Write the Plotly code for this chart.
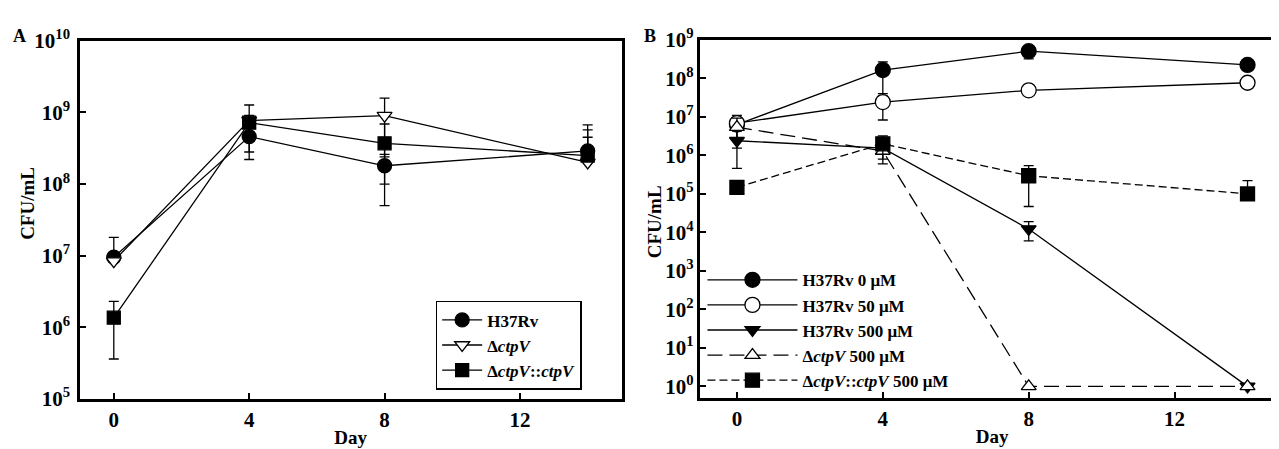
import plotly.graph_objects as go

# ---------------- data ----------------
days = [0, 4, 8, 14]
x_ticks = [0, 4, 8, 12]

# Panel A
a_names = ["H37Rv", "Δ<i>ctpV</i>", "Δ<i>ctpV</i>::<i>ctpV</i>"]
a_h37rv = [9.5e6, 4.6e8, 1.8e8, 2.9e8]
a_h37rv_hi = [1.8e7, 7.0e8, 2.6e8, 6.7e8]
a_h37rv_lo = [9.5e6, 2.2e8, 1.0e8, 2.9e8]
a_ko = [8.4e6, 7.7e8, 9.0e8, 2.0e8]
a_ko_hi = [8.4e6, 1.27e9, 1.58e9, 4.5e8]
a_ko_lo = [8.4e6, 2.8e8, 2.4e8, 2.0e8]
a_comp = [1.36e6, 7.2e8, 3.7e8, 2.5e8]
a_comp_hi = [2.3e6, 9.1e8, 6.9e8, 5.7e8]
a_comp_lo = [3.6e5, 5.3e8, 5.0e7, 2.5e8]
a_ytick_exp = [5, 6, 7, 8, 9, 10]

# Panel B
b_names = ["H37Rv 0 μM", "H37Rv 50 μM", "H37Rv 500 μM",
           "Δ<i>ctpV</i> 500 μM", "Δ<i>ctpV</i>::<i>ctpV</i> 500 μM"]
b_0 = [6.3e6, 1.65e8, 5.1e8, 2.24e8]
b_0_hi = [9.6e6, 2.7e8, 7.0e8, 2.24e8]
b_0_lo = [6.3e6, 3.5e7, 3.2e8, 2.24e8]
b_50 = [6.9e6, 2.43e7, 4.9e7, 7.7e7]
b_50_hi = [1.1e7, 4.0e7, 4.9e7, 7.7e7]
b_50_lo = [2.8e6, 8.3e6, 4.9e7, 7.7e7]
b_500 = [2.4e6, 1.55e6, 1.22e4, 1.0]
b_500_hi = [4.3e6, 2.5e6, 1.9e4, 1.0]
b_500_lo = [4.6e5, 6.0e5, 6.0e3, 1.0]
b_ko = [5.4e6, 1.3e6, 1.0, 1.0]
b_ko_hi = [9.25e6, 1.5e6, 1.0, 1.0]
b_ko_lo = [1.55e6, 1.1e6, 1.0, 1.0]
b_comp = [1.48e5, 2.0e6, 2.96e5, 1.0e5]
b_comp_hi = [1.48e5, 3.2e6, 5.4e5, 2.2e5]
b_comp_lo = [1.48e5, 8.0e5, 4.7e4, 1.0e5]
b_ytick_exp = [0, 1, 2, 3, 4, 5, 6, 7, 8, 9]

FONT = "Liberation Serif"
W, H = 1279, 449


def err(v, hi, lo):
    return dict(type="data", symmetric=False,
                array=[h - a for a, h in zip(v, hi)],
                arrayminus=[a - l for a, l in zip(v, lo)],
                color="black", thickness=1.3, width=5)


def trace(y, hi, lo, name, symbol, size, fill, dash, xa, ya, legend):
    return go.Scatter(
        x=days, y=y, name=name, mode="lines+markers",
        line=dict(color="black", width=1.3, dash=dash),
        marker=dict(symbol=symbol, size=size, color=fill,
                    line=dict(color="black", width=1.3)),
        error_y=err(y, hi, lo), xaxis=xa, yaxis=ya, legend=legend,
    )


fig = go.Figure()

# Panel A
fig.add_trace(trace(a_h37rv, a_h37rv_hi, a_h37rv_lo, a_names[0], "circle", 14, "black", "solid", "x", "y", "legend"))
fig.add_trace(trace(a_ko, a_ko_hi, a_ko_lo, a_names[1], "triangle-down", 13, "white", "solid", "x", "y", "legend"))
fig.add_trace(trace(a_comp, a_comp_hi, a_comp_lo, a_names[2], "square", 13, "black", "solid", "x", "y", "legend"))

# Panel B
fig.add_trace(trace(b_0, b_0_hi, b_0_lo, b_names[0], "circle", 15, "black", "solid", "x2", "y2", "legend2"))
fig.add_trace(trace(b_50, b_50_hi, b_50_lo, b_names[1], "circle", 15, "white", "solid", "x2", "y2", "legend2"))
fig.add_trace(trace(b_500, b_500_hi, b_500_lo, b_names[2], "triangle-down", 13, "black", "solid", "x2", "y2", "legend2"))
fig.add_trace(trace(b_ko, b_ko_hi, b_ko_lo, b_names[3], "triangle-up", 13, "white", "15px,7px", "x2", "y2", "legend2"))
fig.add_trace(trace(b_comp, b_comp_hi, b_comp_lo, b_names[4], "square", 14, "black", "8px,4px", "x2", "y2", "legend2"))

TICKFONT = dict(family=FONT, size=21, color="black", weight="bold")
axis_common = dict(showline=True, linecolor="black", linewidth=2.5, mirror=True,
                   ticks="inside", ticklen=6, tickwidth=2, tickcolor="black",
                   showgrid=False, zeroline=False, tickfont=TICKFONT)

xaxis_common = dict(axis_common, range=[-1, 15], tickvals=x_ticks,
                    ticktext=[str(t) for t in x_ticks],
                    title=dict(text="<b>Day</b>", standoff=0,
                               font=dict(family=FONT, size=19, color="black")))

fig.update_layout(
    width=W, height=H,
    margin=dict(l=0, r=0, t=0, b=0),
    paper_bgcolor="white", plot_bgcolor="white",
    xaxis=dict(xaxis_common, domain=[72 / W, 614 / W], anchor="y"),
    yaxis=dict(axis_common, type="log", range=[5, 10], domain=[1 - 400 / H, 1 - 20 / H],
               tickvals=[10 ** e for e in a_ytick_exp], ticklabelstandoff=3,
               ticktext=["10<sup>%d</sup>" % e for e in a_ytick_exp], anchor="x"),
    xaxis2=dict(xaxis_common, domain=[693 / W, 1277 / W], anchor="y2"),
    yaxis2=dict(axis_common, type="log", range=[-0.3, 9], domain=[1 - 399 / H, 1 - 19 / H],
                tickvals=[10 ** e for e in b_ytick_exp],
                ticktext=["10<sup>%d</sup>" % e for e in b_ytick_exp], anchor="x2"),
    legend=dict(x=428 / W, y=1 - 296 / H, xanchor="left", yanchor="top",
                bgcolor="white", bordercolor="black", borderwidth=1.5,
                font=dict(family=FONT, size=17, color="black", weight="bold"),
                itemwidth=40, tracegroupgap=0),
    legend2=dict(x=695 / W, y=1 - 255 / H, xanchor="left", yanchor="top",
                 bgcolor="rgba(0,0,0,0)", borderwidth=0,
                 font=dict(family=FONT, size=17, color="black", weight="bold"),
                 itemwidth=90, tracegroupgap=0),
    showlegend=True,
    annotations=[
        dict(text="<b>A</b>", x=12 / W, y=1 - 15 / H, xref="paper", yref="paper",
             xanchor="center", yanchor="middle",
             showarrow=False, font=dict(family=FONT, size=18, color="black")),
        dict(text="<b>B</b>", x=643 / W, y=1 - 15 / H, xref="paper", yref="paper",
             xanchor="center", yanchor="middle",
             showarrow=False, font=dict(family=FONT, size=18, color="black")),
        dict(text="<b>CFU/mL</b>", x=20 / W, y=1 - 192 / H, xref="paper", yref="paper",
             xanchor="center", yanchor="middle",
             textangle=-90, showarrow=False, font=dict(family=FONT, size=19, color="black")),
        dict(text="<b>CFU/mL</b>", x=647 / W, y=1 - 212 / H, xref="paper", yref="paper",
             xanchor="center", yanchor="middle",
             textangle=-90, showarrow=False, font=dict(family=FONT, size=19, color="black")),
    ],
)

fig.write_html("out.html")
